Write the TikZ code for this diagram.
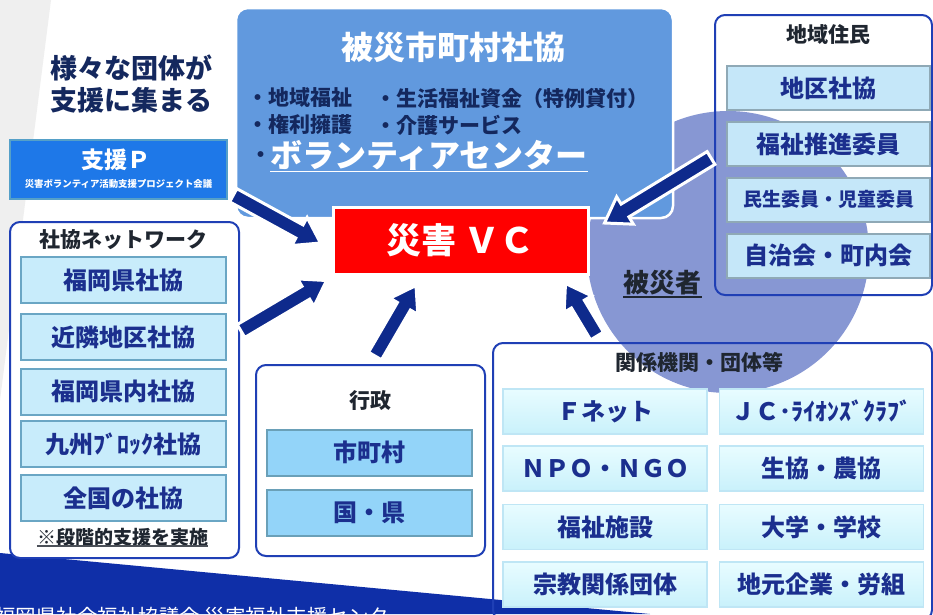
\documentclass[tikz,border=0pt]{standalone}
\usepackage{fontspec}
\setmainfont{Noto Sans CJK JP}
\usetikzlibrary{calc}

\definecolor{navy}{HTML}{1B2F8E}
\definecolor{arrowblue}{HTML}{0E2A8C}
\definecolor{bandblue}{HTML}{0F2FA8}
\definecolor{framebl}{HTML}{1F3FB5}
\definecolor{titlecol}{HTML}{14285E}
\definecolor{darktxt}{HTML}{1F2630}
\definecolor{hisaibox}{HTML}{6199DE}
\definecolor{circlecol}{HTML}{8797D3}
\definecolor{spfill}{HTML}{1E78E8}
\definecolor{spdraw}{HTML}{55A0C8}
\definecolor{netfill}{HTML}{C8ECFB}
\definecolor{netdraw}{HTML}{6AA6C4}
\definecolor{jufill}{HTML}{C5E7F9}
\definecolor{judraw}{HTML}{8FA9B6}
\definecolor{gyfill}{HTML}{93D4F9}
\definecolor{gydraw}{HTML}{6AA0B8}
\definecolor{katop}{HTML}{E8FCFF}
\definecolor{kabot}{HTML}{C9F1FB}
\definecolor{kadraw}{HTML}{BFE6F5}
\definecolor{graybg}{HTML}{EFEFEF}

\newcommand\fs[1]{\fontsize{#1}{#1}\selectfont}

\newcommand\blockarrow[2]{%
  \coordinate (neck) at ($(#2)!24pt!(#1)$);
  \filldraw[fill=arrowblue, draw=white, line width=3pt, line join=miter]
    ($(#1)!7.5pt!90:(#2)$) -- ($(neck)!7.5pt!90:(#2)$) -- ($(neck)!16pt!90:(#2)$)
    -- (#2) -- ($(neck)!16pt!-90:(#2)$) -- ($(neck)!7.5pt!-90:(#2)$)
    -- ($(#1)!7.5pt!-90:(#2)$) -- cycle;}

\tikzset{
  frame/.style={draw=framebl, line width=2pt, rounded corners=10pt},
  netitem/.style={draw=netdraw, fill=netfill, line width=2pt, minimum width=205, minimum height=46,
    font=\fs{24}\bfseries, text=navy, inner sep=0pt},
  juitem/.style={draw=judraw, fill=jufill, line width=2pt, minimum width=203, minimum height=44,
    font=\fs{24}\bfseries, text=navy, inner sep=0pt},
  gyitem/.style={draw=gydraw, fill=gyfill, line width=2pt, minimum width=205, minimum height=46,
    font=\fs{24}\bfseries, text=navy, inner sep=0pt},
  kaitem/.style={draw=kadraw, top color=katop, bottom color=kabot, line width=1.5pt, minimum width=204,
    minimum height=45, font=\fs{24}\bfseries, text=navy, inner sep=0pt},
  darktitle/.style={font=\fs{21}\bfseries, text=darktxt, inner sep=0pt},
  listtxt/.style={font=\fs{21}\bfseries, text=titlecol, inner sep=0pt, anchor=west},
}

\begin{document}
\begin{tikzpicture}[x=1pt,y=-1pt]
\useasboundingbox (0,0) rectangle (933,614);
\clip (0,0) rectangle (933,614);
\fill[white] (0,0) rectangle (933,614);
\fill[graybg] (0,0) -- (51,0) -- (0,400) -- cycle;
\fill[bandblue] (0,553) -- (650,614) -- (0,614) -- cycle;
\node[text=white, font=\fs{20.5}, anchor=base west, inner sep=0pt] (footer) at (-5,624)
  {福岡県社会福祉協議会 災害福祉支援センター};

% victims circle
\fill[circlecol] (728,252) circle[radius=141pt];

% title
\node[font=\fontsize{27}{32}\selectfont\bfseries, text=titlecol, align=center, inner sep=0pt] (catch) at (131,84)
  {様々な団体が\\支援に集まる};

% hisai shakyo box
\node[fill=hisaibox, draw=white, line width=2.5pt, rounded corners=12pt,
  minimum width=437, minimum height=210] (hsk) at (454.5,113) {};
\node[font=\fs{32}\bfseries, text=white, inner sep=0pt] (hskt) at (453,47) {被災市町村社協};
\node[listtxt] (l1) at (247,98) {・地域福祉};
\node[listtxt] (l2) at (375,98) {・生活福祉資金（特例貸付）};
\node[listtxt] (l3) at (247,125) {・権利擁護};
\node[listtxt] (l4) at (375,125) {・介護サービス};
\node[listtxt] (l5) at (250,157) {・};
\node[font=\fs{32}\bfseries, text=white, anchor=west, inner sep=0pt] (vol) at (270,155) {ボランティアセンター};
\draw[white, line width=1.5pt] ($(vol.south west)+(0,1)$) -- ($(vol.south east)+(0,1)$);

% shien P
\node[draw=spdraw, fill=spfill, line width=2.5pt, minimum width=217, minimum height=59] (sp) at (118.5,169.5) {};
\node[font=\fs{23}\bfseries, text=white, inner sep=0pt] (spt) at (116,160) {支援Ｐ};
\node[font=\fs{9.4}\bfseries, text=white, inner sep=0pt] (sps) at (118.5,184) {災害ボランティア活動支援プロジェクト会議};

% shakyo network
\node[frame, fill=white, minimum width=229, minimum height=336] (net) at (124.5,390) {};
\node[darktitle] (nett) at (123,240) {社協ネットワーク};
\node[netitem] (n1) at (123.5,280) {福岡県社協};
\node[netitem] (n2) at (123.5,337) {近隣地区社協};
\node[netitem] (n3) at (123.5,391.5) {福岡県内社協};
\node[netitem] (n4) at (123.5,444) {九州ﾌﾞﾛｯｸ社協};
\node[netitem] (n5) at (123.5,498) {全国の社協};
\node[font=\fs{19}\bfseries, text=darktxt, inner sep=0pt] (note) at (122.5,537) {※段階的支援を実施};
\draw[line width=2pt, color=darktxt!80] (note.south west) -- (note.south east);

% gyosei
\node[frame, fill=white, minimum width=229, minimum height=191] (gyo) at (370.5,460.5) {};
\node[darktitle] (gyot) at (370,401) {行政};
\node[gyitem] (g1) at (369.5,452.5) {市町村};
\node[gyitem] (g2) at (369.5,513) {国・県};

% chiiki jumin
\node[frame, minimum width=217, minimum height=280] (jumin) at (823.5,155) {};
\node[darktitle] (jumint) at (828.5,35) {地域住民};
\node[juitem] (j1) at (828.5,88) {地区社協};
\node[juitem] (j2) at (828.5,144) {福祉推進委員};
\node[juitem, font=\fs{19}\bfseries] (j3) at (828.5,199.5) {民生委員・児童委員};
\node[juitem] (j4) at (828.5,255.5) {自治会・町内会};

% kankei kikan
\node[frame, minimum width=439, minimum height=277] (kan) at (712.5,481.5) {};
\node[darktitle] (kant) at (699,362) {関係機関・団体等};
\node[kaitem] (k11) at (605,411.5) {Ｆネット};
\node[kaitem] (k12) at (821.5,411.5) {ＪＣ･ﾗｲｵﾝｽﾞｸﾗﾌﾞ};
\node[kaitem] (k21) at (605,468.5) {ＮＰＯ・ＮＧＯ};
\node[kaitem] (k22) at (821.5,468.5) {生協・農協};
\node[kaitem] (k31) at (605,527) {福祉施設};
\node[kaitem] (k32) at (821.5,527) {大学・学校};
\node[kaitem] (k41) at (605,584.5) {宗教関係団体};
\node[kaitem] (k42) at (821.5,584.5) {地元企業・労組};

% disaster VC
\node[fill=red, draw=white, line width=3pt, minimum width=255, minimum height=67,
  text=white, font=\fs{35}\bfseries, inner sep=0pt] (vc) at (460.5,240.5) {災害\hspace{8pt}ＶＣ};

% arrows
\coordinate (a1s) at ($(sp.south east)+(5,-5)$);
\coordinate (a1e) at ($(vc.west)+(-11,2.5)$);
\coordinate (a2s) at ($(net.north east)+(1,110)$);
\coordinate (a2e) at ($(vc.south west)+(-5,5)$);
\coordinate (a3s) at ($(gyo.north)+(4.5,-8)$);
\coordinate (a3e) at ($(vc.south)+(-44.5,10)$);
\coordinate (a4s) at ($(kan.north west)+(105,-6)$);
\coordinate (a4e) at ($(vc.south east)+(-24,8)$);
\coordinate (a5s) at ($(jumin.west)+(-3,3)$);
\coordinate (a5e) at ($(vc.east)+(15,-17.5)$);
\blockarrow{a1s}{a1e}
\blockarrow{a2s}{a2e}
\blockarrow{a3s}{a3e}
\blockarrow{a4s}{a4e}
\blockarrow{a5s}{a5e}

% victims label
\node[font=\fs{26}\bfseries, text=darktxt, inner sep=0pt] (hisaisha) at (662.5,283) {被災者};
\draw[line width=2pt, color=darktxt] ($(hisaisha.south west)+(0,1)$) -- ($(hisaisha.south east)+(0,1)$);
\end{tikzpicture}
\end{document}
